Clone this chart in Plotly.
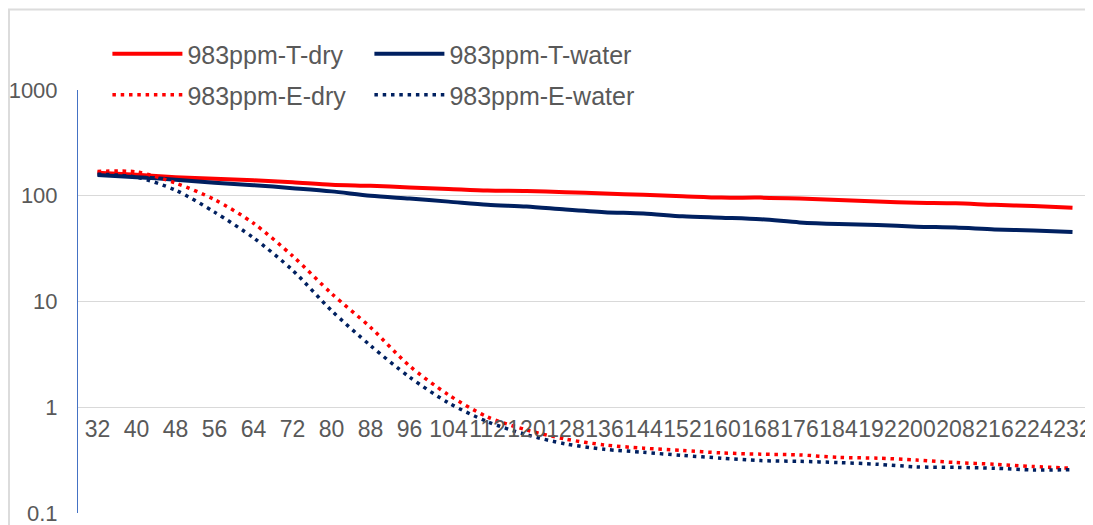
import plotly.graph_objects as go

# x categories (temperature steps)
categories = [str(v) for v in range(32, 233, 8)]

t_dry = [165, 158, 150, 145, 140, 134, 127, 124, 120, 116, 112, 111, 108,
         105, 102, 99, 96, 96, 94, 91, 88, 86, 85, 82, 80, 77]
t_water = [157, 150, 142, 133, 126, 118, 110, 100, 94, 88, 82, 79, 74,
           70, 68, 64, 62, 60, 56, 54, 53, 51, 50, 48, 47, 45.5]
e_dry = [170, 168, 132, 92, 55, 27, 11.9, 5.7, 2.46, 1.31, 0.81, 0.61, 0.50,
         0.44, 0.41, 0.39, 0.37, 0.36, 0.354, 0.336, 0.33, 0.317, 0.30, 0.289,
         0.275, 0.265]
e_water = [160, 150, 113, 70, 40, 19.8, 8.2, 3.83, 1.93, 1.10, 0.73, 0.55,
           0.45, 0.40, 0.375, 0.35, 0.33, 0.313, 0.308, 0.30, 0.289, 0.273,
           0.27, 0.265, 0.255, 0.257]

y_ticks = [0.1, 1, 10, 100, 1000]
y_tick_text = ["0.1", "1", "10", "100", "1000"]

RED = "#ff0000"
NAVY = "#002060"
GREY = "#595959"

# the page body adds an 8px offset, so the figure is laid out 8px smaller
W, H = 1085, 517
PLOT_BOTTOM = 505          # y pixel of 0.1
PLOT_TOP = 82              # y pixel of 1000
AREA_H = PLOT_BOTTOM - 2   # margin t=2
Y_TOP = (PLOT_BOTTOM - PLOT_TOP) / AREA_H

fig = go.Figure()


def add_line(y, name, color, dash, width, legend, legend_w):
    fig.add_trace(go.Scatter(
        x=categories, y=y, name=name, mode="lines",
        line=dict(color=color, width=width, dash=dash, shape="spline", smoothing=0.8),
        legend=legend, legendwidth=legend_w,
    ))


DOT = "3.5px,4.8px"
add_line(t_dry, "983ppm-T-dry", RED, "solid", 4, "legend", 177)
add_line(t_water, "983ppm-T-water", NAVY, "solid", 4, "legend", 215)
add_line(e_dry, "983ppm-E-dry", RED, DOT, 3.5, "legend2", 177)
add_line(e_water, "983ppm-E-water", NAVY, DOT, 3.5, "legend2", 215)

legend_style = dict(
    orientation="h", xanchor="left", yanchor="middle",
    itemwidth=70,
    font=dict(family="Liberation Sans, Arial", size=25, color=GREY),
    bgcolor="rgba(0,0,0,0)", traceorder="normal",
)

fig.update_layout(
    width=W, height=H,
    margin=dict(l=70, r=1, t=2, b=H - PLOT_BOTTOM),
    paper_bgcolor="white", plot_bgcolor="white",
    font=dict(family="Liberation Sans, Arial", color=GREY),
    legend=dict(x=0.029, y=(PLOT_BOTTOM - 46) / AREA_H, **legend_style),
    legend2=dict(x=0.029, y=(PLOT_BOTTOM - 87) / AREA_H, **legend_style),
    xaxis=dict(
        type="category", anchor="free", position=0.25 * Y_TOP,
        range=[-0.5, len(categories) - 0.5],
        showgrid=False, showline=False, zeroline=False,
        ticks="outside", ticklen=1, tickcolor="rgba(0,0,0,0)",
        tickangle=0, automargin=False,
        tickfont=dict(size=23, color=GREY),
    ),
    yaxis=dict(
        type="log", range=[-1, 3], domain=[0, Y_TOP],
        tickvals=y_ticks, ticktext=y_tick_text,
        showgrid=True, gridcolor="#d9d9d9", gridwidth=1,
        showline=True, linecolor="#4472c4", linewidth=1,
        ticks="outside", ticklen=15, tickcolor="rgba(0,0,0,0)",
        tickfont=dict(size=22, color=GREY),
        ticklabeloverflow="allow", automargin=False,
        zeroline=False,
    ),
    shapes=[dict(
        type="rect", xref="paper", yref="paper",
        x0=-69 / 1014, x1=1.05, y0=-0.1, y1=(PLOT_BOTTOM - 1.5) / AREA_H,
        line=dict(color="#dcdcdc", width=2), layer="below",
    )],
)

fig.write_html("out.html")
